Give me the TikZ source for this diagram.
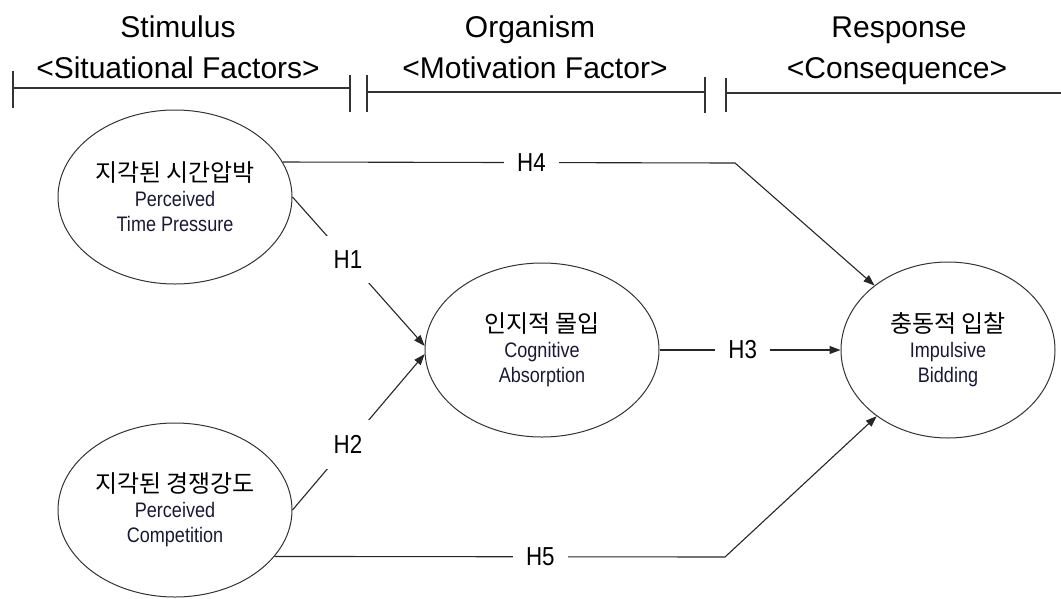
\documentclass[tikz,border=0pt]{standalone}
\usepackage{fontspec}
\setmainfont{Liberation Sans}
\newfontfamily\korfont{Noto Sans CJK KR}
\newfontfamily\narrowfont[FakeStretch=0.86]{Liberation Sans}
\usetikzlibrary{shapes.geometric,arrows.meta}
\definecolor{engtext}{RGB}{25,25,55}
\newcommand\kortitle[1]{{\korfont\fontsize{24}{26}\selectfont\color{black}#1}}

\begin{document}
\begin{tikzpicture}[x=1pt,y=-1pt,
  factor/.style={draw=black!80,line width=1pt,ellipse,minimum width=234pt,minimum height=174pt,
    inner sep=0pt,align=center,text=engtext,font=\narrowfont\fontsize{21}{25}\selectfont},
  headtxt/.style={anchor=base,font=\fontsize{30}{36}\selectfont},
  hyp/.style={fill=white,inner xsep=13pt,inner ysep=15pt,font=\narrowfont\fontsize{26}{30}\selectfont},
  link/.style={draw=black!85,line width=1.1pt,-{Triangle[length=11pt,width=8pt]}},
  bar/.style={draw=black!80,line width=1.1pt}]
  \useasboundingbox (0,0) rectangle (1061,598);

  % S-O-R header
  \node[headtxt] (stim) at (178,37) {Stimulus};
  \node[headtxt] (stimsub) at (178,78) {<Situational Factors>};
  \node[headtxt] (orga) at (530,37) {Organism};
  \node[headtxt] (orgasub) at (535,78) {<Motivation Factor>};
  \node[headtxt] (resp) at (899,37) {Response};
  \node[headtxt] (respsub) at (897,78) {<Consequence>};

  \draw[bar] (13,88) -- (350,88);
  \draw[bar] (13,71) -- (13,108);
  \draw[bar] (350,75) -- (350,112);
  \draw[bar] (367,92) -- (705,92);
  \draw[bar] (367,75) -- (367,112);
  \draw[bar] (705,77) -- (705,113);
  \draw[bar] (726,93) -- (1061,93);
  \draw[bar] (726,78) -- (726,112);

  % constructs
  \node[factor] (tp) at (175,197) {\kortitle{지각된 시간압박}\\Perceived\\Time Pressure};
  \node[factor] (pc) at (175,510) {\kortitle{지각된 경쟁강도}\\Perceived\\Competition};
  \node[factor] (ca) at (542,350) {\kortitle{인지적 몰입}\\Cognitive\\Absorption};
  \node[factor,minimum width=214pt,minimum height=176pt] (ib) at (948,350) {\kortitle{충동적 입찰}\\Impulsive\\Bidding};

  % hypotheses
  \coordinate (h4bend) at (735,163);
  \coordinate (h5bend) at (725,557);
  \draw[link] (tp.east) -- node[hyp,pos=.42] (h1) {H1} (ca.178);
  \draw[link] (pc.east) -- node[hyp,pos=.42] (h2) {H2} (ca.182);
  \draw[link] (ca.east) -- node[hyp,pos=.46] (h3) {H3} (ib.west);
  \draw[link] (tp.18) -- node[hyp,pos=.55] (h4) {H4} (h4bend) -- (ib);
  \draw[link] (pc.-25) -- node[hyp,pos=.59] (h5) {H5} (h5bend) -- (ib);
\end{tikzpicture}
\end{document}
